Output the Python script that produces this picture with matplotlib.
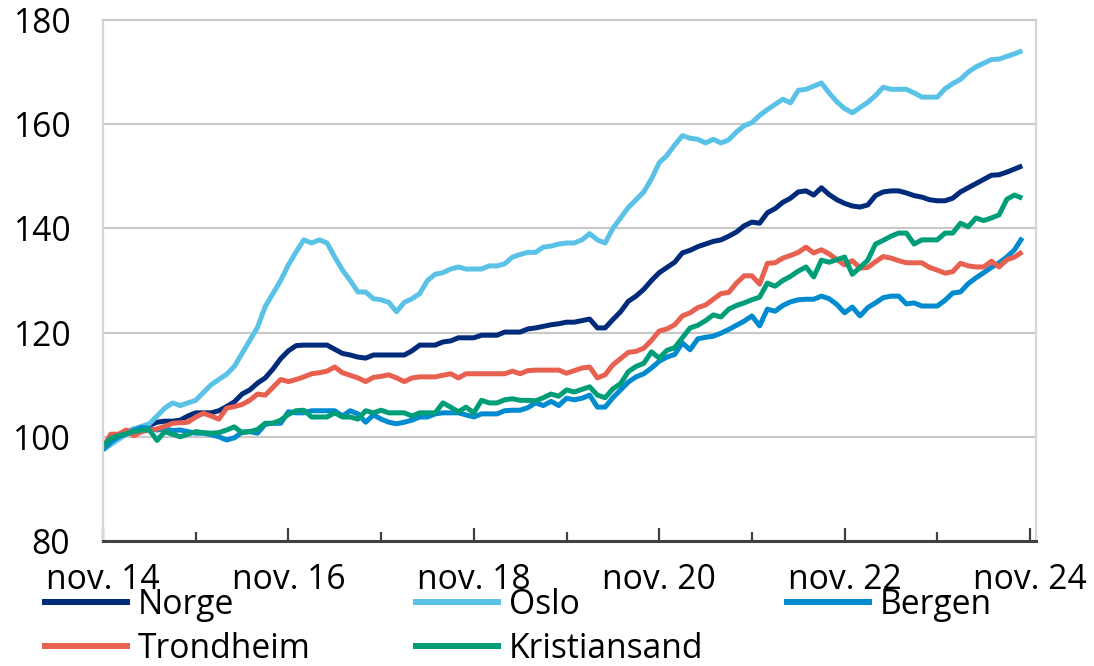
import matplotlib
matplotlib.use("Agg")
import matplotlib.pyplot as plt
from matplotlib.lines import Line2D

plt.rcParams['font.family'] = ['Open Sans', 'DejaVu Sans']

# Monthly index, nov. 2014 (0) ... okt. 2024 (119)
months = list(range(120))
tick_positions = [0, 24, 48, 72, 96, 120]
minor_positions = [12, 36, 60, 84, 108]
tick_labels = ["nov. 14", "nov. 16", "nov. 18", "nov. 20", "nov. 22", "nov. 24"]
y_ticks = [80, 100, 120, 140, 160, 180]

series_names = ["Norge", "Oslo", "Bergen", "Trondheim", "Kristiansand"]
series_colors = ["#002A7A", "#5BC2E7", "#008ACF", "#E8604F", "#009E78"]

norge = [98, 99.5, 100.2, 100.8, 101.5, 101.8, 102.2, 102.8, 103, 103, 103.2, 104, 104.6, 104.6, 104.6, 105,
         105.8, 106.7, 108.2, 109, 110.3, 111.3, 113, 115, 116.5, 117.5, 117.6, 117.6, 117.6, 117.6, 116.8, 116,
         115.7, 115.3, 115.1, 115.7, 115.7, 115.7, 115.7, 115.7, 116.5, 117.6, 117.6, 117.6, 118.2, 118.4, 119, 119,
         119, 119.5, 119.5, 119.5, 120.1, 120.1, 120.1, 120.7, 120.9, 121.2, 121.5, 121.7, 122, 122, 122.3, 122.6,
         120.9, 120.9, 122.5, 124, 126, 127, 128.3, 130, 131.5, 132.5, 133.5, 135.3, 135.8, 136.5, 137, 137.5,
         137.8, 138.5, 139.3, 140.5, 141.2, 141, 143, 143.8, 145, 145.8, 147, 147.2, 146.4, 147.8, 146.5, 145.5,
         144.8, 144.3, 144.1, 144.5, 146.3, 147, 147.2, 147.2, 146.8, 146.3, 146, 145.5, 145.3, 145.3, 145.8, 147,
         147.8, 148.6, 149.4, 150.2, 150.3, 150.8, 151.4, 152]
oslo = [97.5, 98.5, 99.5, 100.5, 101.5, 102, 102.5, 104, 105.5, 106.5, 106, 106.5, 107, 108.5, 110, 111,
        112, 113.5, 116, 118.5, 121, 125, 127.5, 130, 133, 135.5, 137.8, 137.2, 137.8, 137.2, 134.5, 132,
        130, 127.8, 127.8, 126.5, 126.3, 125.8, 124, 125.8, 126.5, 127.5, 130, 131.2, 131.5, 132.2, 132.6, 132.2,
        132.2, 132.2, 132.8, 132.8, 133.2, 134.5, 135, 135.4, 135.4, 136.4, 136.6, 137, 137.2, 137.2, 137.8, 139,
        137.8, 137.2, 140, 142, 144, 145.5, 147, 149.5, 152.6, 154, 156, 157.8, 157.3, 157.1, 156.4, 157.1,
        156.4, 157, 158.5, 159.7, 160.3, 161.7, 162.8, 163.8, 164.8, 164.1, 166.5, 166.7, 167.3, 167.9, 166, 164.3,
        163, 162.2, 163.2, 164.2, 165.5, 167.1, 166.7, 166.7, 166.7, 166, 165.2, 165.2, 165.2, 166.8, 167.8, 168.6,
        170, 171, 171.7, 172.4, 172.5, 173, 173.5, 174.1]
bergen = [97.5, 99, 100, 100.5, 101.2, 101.8, 101.6, 101.3, 101.5, 101.2, 101.3, 101, 100.7, 100.7, 100.4, 100,
          99.4, 99.8, 100.9, 101, 100.7, 102.4, 102.6, 102.6, 104.8, 104.6, 104.6, 105, 105, 105, 105, 104,
          105, 104.4, 102.8, 104.2, 103.4, 102.8, 102.5, 102.8, 103.2, 103.8, 103.8, 104.4, 104.6, 104.6, 104.6, 104.2,
          103.8, 104.4, 104.4, 104.4, 105, 105.1, 105.1, 105.6, 106.5, 106, 106.8, 106, 107.4, 107.1, 107.4, 108,
          105.7, 105.7, 107.5, 109, 110.5, 111.5, 112.1, 113.2, 114.5, 115.3, 115.8, 118, 116.7, 118.8, 119.1, 119.3,
          119.9, 120.6, 121.4, 122.2, 123.2, 121.3, 124.5, 124.1, 125.2, 125.9, 126.3, 126.4, 126.4, 127, 126.5, 125.4,
          123.8, 124.9, 123.2, 124.8, 125.7, 126.7, 127, 127, 125.5, 125.7, 125.1, 125.1, 125.1, 126.2, 127.6, 127.8,
          129.4, 130.5, 131.5, 132.5, 133.4, 134.5, 135.9, 138.2]
trondheim = [98, 100.5, 100.5, 101.3, 100.2, 101, 101.3, 101.5, 102, 102.6, 102.7, 102.8, 103.8, 104.5, 104, 103.4,
             105.5, 105.8, 106.2, 107, 108.2, 108, 109.5, 111, 110.6, 111, 111.5, 112.1, 112.3, 112.6, 113.4, 112.3,
             111.8, 111.3, 110.6, 111.4, 111.6, 111.9, 111.3, 110.6, 111.3, 111.5, 111.5, 111.5, 111.8, 112.1, 111.3, 112.1,
             112.1, 112.1, 112.1, 112.1, 112.1, 112.6, 112.1, 112.7, 112.8, 112.8, 112.8, 112.8, 112.2, 112.7, 113.2, 113.4,
             111.3, 111.9, 113.8, 115, 116.2, 116.4, 117, 118.5, 120.3, 120.7, 121.5, 123.2, 123.8, 124.8, 125.3, 126.4,
             127.5, 127.7, 129.5, 130.9, 130.9, 129.3, 133.3, 133.4, 134.3, 134.8, 135.4, 136.4, 135.3, 135.9, 135.1, 134,
             133, 133.8, 132.4, 132.5, 133.6, 134.6, 134.3, 133.8, 133.4, 133.4, 133.4, 132.5, 132, 131.4, 131.7, 133.3,
             132.8, 132.6, 132.6, 133.7, 132.6, 134, 134.5, 135.5]
kristiansand = [98.2, 99.7, 100.2, 100.6, 101, 101.3, 101.3, 99.3, 101, 100.5, 100, 100.5, 101, 100.8, 100.7, 100.8,
                101.3, 101.9, 100.8, 101, 101.4, 102.6, 102.6, 103.2, 104.3, 105, 105.1, 103.8, 103.8, 103.8, 104.6, 103.8,
                103.8, 103.4, 105, 104.6, 105.1, 104.6, 104.6, 104.6, 104, 104.6, 104.6, 104.6, 106.5, 105.7, 104.8, 105.7,
                104.6, 107, 106.5, 106.5, 107.1, 107.3, 107, 107, 106.9, 107.5, 108.2, 107.8, 109, 108.6, 109.1, 109.6,
                108, 107.5, 109.2, 110.2, 112.5, 113.5, 114.1, 116.3, 115.1, 116.6, 117.1, 119, 120.9, 121.4, 122.3, 123.4,
                123, 124.5, 125.2, 125.7, 126.3, 126.8, 129.5, 128.9, 130, 130.8, 131.8, 132.6, 130.7, 133.9, 133.5, 134,
                134.5, 131.2, 132.5, 133.9, 137, 137.7, 138.5, 139.1, 139.1, 137, 137.8, 137.8, 137.8, 139.1, 139.1, 141,
                140.3, 142, 141.5, 142, 142.6, 145.6, 146.4, 145.8]

series_values = [norge, oslo, bergen, trondheim, kristiansand]

W, H = 1094, 666
fig = plt.figure(figsize=(W / 100, H / 100), dpi=100)
ax_left, ax_right, ax_top, ax_bottom = 103, 1036, 20, 541
ax = fig.add_axes([ax_left / W, (H - ax_bottom) / H, (ax_right - ax_left) / W, (ax_bottom - ax_top) / H])

px_per_month = (1030 - 103) / 120
ax.set_xlim(0, (ax_right - ax_left) / px_per_month)
ax.set_ylim(80, 180)

lw = 3.6
for name, vals, col in zip(series_names, series_values, series_colors):
    ax.plot(months, vals, color=col, lw=lw, solid_joinstyle='round', solid_capstyle='butt', label=name)

# grid
ax.set_yticks(y_ticks)
for y in y_ticks[1:-1]:
    ax.axhline(y, color="#C9C9C9", lw=1.6, zorder=0)
for side in ["left", "right"]:
    ax.spines[side].set_color("#D6D6D6")
    ax.spines[side].set_linewidth(1.6)
ax.spines["top"].set_color("#C9C9C9")
ax.spines["top"].set_linewidth(1.6)
ax.spines["bottom"].set_color("#404040")
ax.spines["bottom"].set_linewidth(2.2)

fs = 24.2
ax.tick_params(axis='y', length=0, pad=23.5, labelsize=fs, labelcolor="#000000")
ax.set_xticks(tick_positions)
ax.set_xticklabels(tick_labels)
ax.set_xticks(minor_positions, minor=True)
ax.tick_params(axis='x', which='major', direction='in', length=9.5, width=1.6, color="#404040",
               pad=16, labelsize=fs, labelcolor="#000000")
ax.tick_params(axis='x', which='minor', direction='in', length=6.5, width=1.6, color="#404040")

# legend: three columns at fixed positions
handles = [Line2D([], [], color=c, lw=4.3) for c in series_colors]
columns = [([0, 3], 45), ([1, 4], 416), ([2], 787)]
row1_y, row2_y = 605, 649
for idxs, x0 in columns:
    hs = [handles[i] for i in idxs]
    ls = [series_names[i] for i in idxs]
    if len(idxs) == 1:
        anchor_y = (H - row1_y) / H
    else:
        anchor_y = (H - (row1_y + row2_y) / 2) / H
    fig.legend(hs, ls, loc='center left', bbox_to_anchor=(x0 / W, anchor_y),
               frameon=False, fontsize=fs, handlelength=82 / 33.6, handletextpad=0.33,
               labelspacing=0.3, borderpad=0, borderaxespad=0)

fig.savefig("out.png", dpi=100)
